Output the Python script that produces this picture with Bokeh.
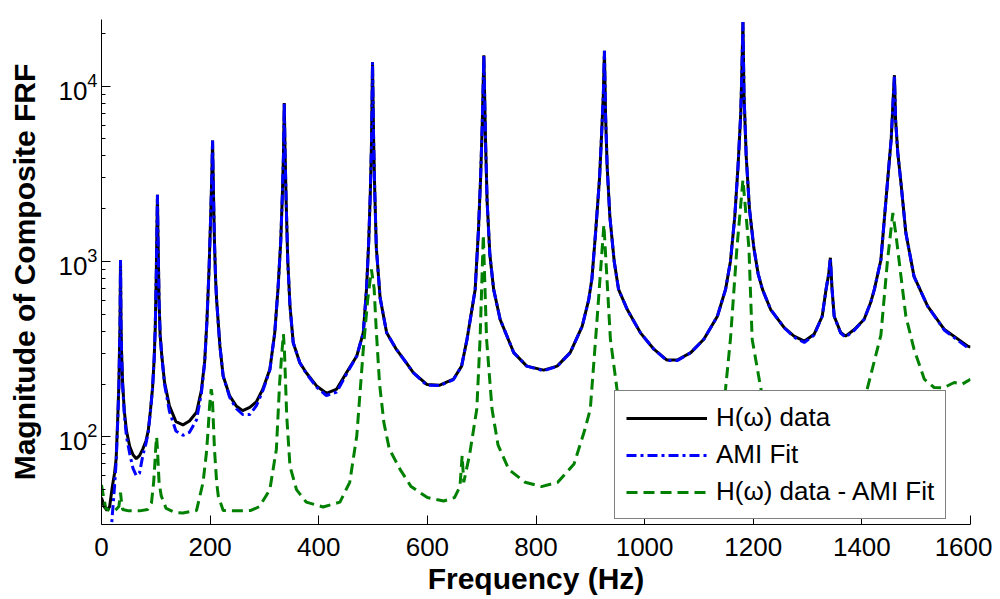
from bokeh.plotting import figure
from bokeh.models import FixedTicker, Legend, LegendItem, Range1d
from bokeh.embed import file_html
from bokeh.resources import INLINE

# ---- data ----
freq_h = [0, 5, 10, 15, 20, 24, 27, 30, 32, 33, 34, 35, 36, 37, 39, 42, 46, 52, 58, 64,
          70, 76, 82, 86, 90, 94, 97, 99, 101, 102, 103, 104, 106, 108, 111, 116, 125, 137, 150, 162,
          175, 184, 190, 194, 198, 201, 203, 204.5, 206, 208, 210, 212, 218, 224, 236, 248, 260, 273, 285, 297,
          310, 319, 325, 330, 333, 335, 336.5, 338, 340, 343, 347, 353, 365, 377, 396, 414, 433, 451, 470, 482,
          488, 492, 495, 497, 499, 501, 503, 506, 513, 525, 543, 562, 574, 599, 623, 648, 663, 673, 682, 688,
          694, 698, 701, 704, 707, 710, 715, 722, 734, 759, 783, 814, 839, 863, 885, 897, 903, 910, 917, 921,
          924, 926, 928, 931, 936, 944, 952, 968, 992, 1017, 1041, 1060, 1085, 1109, 1134, 1149, 1158, 1166, 1172, 1177,
          1179, 1181, 1183, 1187, 1193, 1201, 1209, 1217, 1232, 1257, 1275, 1294, 1312, 1327, 1334, 1339, 1342, 1345, 1349, 1361,
          1370, 1386, 1404, 1416, 1423, 1435, 1447, 1454, 1458, 1460, 1462, 1466, 1472, 1481, 1496, 1521, 1552, 1595, 1600]

h_data = [45, 40, 38, 40, 52, 62, 75, 130, 200, 300, 420, 1020, 430, 300, 200, 140, 108, 88, 79, 75,
          78, 85, 95, 108, 140, 190, 280, 420, 900, 1500, 2400, 1400, 600, 380, 290, 205, 150, 122, 117, 123,
          138, 185, 270, 450, 900, 1800, 3000, 4900, 2600, 1300, 800, 600, 330, 222, 171, 150, 141, 147, 158, 187,
          243, 393, 700, 1300, 2400, 4000, 8000, 4200, 2200, 1000, 560, 344, 265, 232, 195, 177, 187, 232, 289, 392,
          700, 1300, 2500, 4500, 13700, 5000, 2600, 1200, 620, 392, 315, 262, 232, 199, 197, 213, 253, 360, 532, 693,
          1500, 3000, 6000, 15000, 5000, 2200, 1100, 693, 467, 302, 253, 240, 253, 302, 427, 604, 800, 1500, 3000, 5500,
          9000, 15900, 7000, 3500, 1800, 1000, 693, 532, 393, 316, 274, 274, 302, 360, 487, 693, 1000, 1800, 3500, 7000,
          12000, 23200, 9000, 4000, 2000, 1200, 850, 693, 532, 419, 375, 351, 384, 487, 693, 850, 1050, 700, 487, 393,
          375, 409, 467, 581, 693, 1020, 2800, 5000, 8900, 11550, 6500, 4200, 2800, 1452, 822, 556, 409, 329, 325]

ami_fit = [12, 14, 17, 22, 36, 52, 72, 125, 195, 290, 420, 1020, 430, 300, 195, 135, 100, 80, 66, 60,
           62, 78, 92, 106, 138, 188, 280, 420, 900, 1500, 2400, 1400, 600, 380, 290, 200, 140, 108, 102, 106,
           125, 178, 265, 450, 900, 1800, 3000, 4900, 2600, 1300, 800, 600, 330, 222, 168, 145, 134, 134, 150, 183,
           240, 393, 700, 1300, 2400, 4000, 8000, 4200, 2200, 1000, 560, 344, 265, 230, 192, 172, 180, 228, 289, 392,
           700, 1300, 2500, 4500, 13700, 5000, 2600, 1200, 620, 392, 315, 262, 232, 197, 196, 212, 253, 360, 532, 693,
           1500, 3000, 6000, 15000, 5000, 2200, 1100, 693, 467, 302, 253, 238, 252, 302, 427, 604, 800, 1500, 3000, 5500,
           9000, 15900, 7000, 3500, 1800, 1000, 693, 532, 393, 316, 272, 272, 302, 360, 487, 693, 1000, 1800, 3500, 7000,
           12000, 23200, 9000, 4000, 2000, 1200, 850, 693, 532, 419, 370, 345, 380, 487, 693, 850, 1050, 700, 487, 390,
           370, 405, 467, 581, 693, 1020, 2800, 5000, 8900, 11550, 6500, 4200, 2800, 1452, 822, 556, 405, 322, 318]

freq_diff = [0, 4, 8, 15, 25, 32, 35, 37, 39, 50, 70, 85, 92, 96, 98, 100, 101.5, 103, 106, 110,
             119, 135, 150, 175, 187, 193, 196, 199, 202, 204, 208, 212, 215, 224, 254, 275, 291, 310, 322, 328,
             332, 335, 337, 341, 347, 359, 377, 408, 439, 457, 470, 482, 490, 497, 502, 506, 512, 520, 530, 550,
             570, 600, 630, 650, 660, 664, 667, 678, 691, 697, 703, 709, 719, 730, 750, 780, 810, 840, 870, 890,
             900, 912, 925, 937, 949, 962, 990, 1040, 1090, 1120, 1140, 1149, 1158, 1170, 1181, 1192, 1198, 1214, 1230, 1260,
             1300, 1330, 1342, 1350, 1380, 1400, 1410, 1435, 1447, 1457, 1463, 1472, 1481, 1496, 1515, 1533, 1550, 1570, 1585, 1600]

diff_data = [53, 45, 39, 38, 38, 40, 48, 42, 38.5, 37.8, 37.8, 38.5, 42, 55, 68, 88, 100, 85, 55, 46,
             39, 37, 36.8, 38, 55, 80, 106, 150, 187, 170, 85, 55, 46, 38, 37.8, 38, 40, 50, 85, 204,
             300, 385, 300, 132, 68, 50, 42.4, 39.8, 42.4, 55, 101, 315, 600, 900, 700, 400, 200, 120, 85, 65,
             52, 45, 43, 45, 52, 78, 55, 80, 144, 360, 1420, 360, 144, 90, 65, 55, 52, 55, 70, 110,
             144, 447, 1620, 360, 188, 120, 80, 60, 65, 90, 130, 188, 360, 1200, 2920, 1200, 360, 188, 120, 80,
             65, 70, 90, 70, 90, 150, 188, 380, 1000, 1890, 1400, 822, 487, 316, 213, 191, 190, 204, 200, 213]

x_ticks = [0, 200, 400, 600, 800, 1000, 1200, 1400, 1600]
y_ticks = [100, 1000, 10000]
y_minor = [40, 50, 60, 70, 80, 90, 200, 300, 400, 500, 600, 700, 800, 900,
           2000, 3000, 4000, 5000, 6000, 7000, 8000, 9000, 20000]

FONT = "Liberation Sans"

p = figure(width=992, height=597, y_axis_type="log",
           x_range=Range1d(0, 1600), y_range=Range1d(31.6, 24000),
           output_backend="svg", toolbar_location=None,
           min_border_left=101, min_border_right=22, min_border_top=19, min_border_bottom=72)
p.outline_line_color = None
p.xgrid.visible = False
p.ygrid.visible = False
p.background_fill_color = "white"

r_h = p.line(freq_h, h_data, line_color="black", line_width=3)
r_fit = p.line(freq_h, ami_fit, line_color="#0000ff", line_width=3, line_dash="10 4 3 4")
r_diff = p.line(freq_diff, diff_data, line_color="#008000", line_width=3, line_dash="11 6")

xa = p.xaxis[0]
xa.ticker = FixedTicker(ticks=x_ticks)
xa.major_tick_in = 9
xa.major_tick_out = 0
xa.minor_tick_in = 0
xa.minor_tick_out = 0
xa.axis_label = "Frequency (Hz)"

ya = p.yaxis[0]
ya.ticker = FixedTicker(ticks=y_ticks, minor_ticks=y_minor)
ya.major_tick_in = 9
ya.major_tick_out = 0
ya.minor_tick_in = 4
ya.minor_tick_out = 0
ya.axis_label = "Magnitude of Composite FRF"

for ax in (xa, ya):
    ax.axis_line_color = "black"
    ax.axis_line_width = 1
    ax.major_tick_line_color = "black"
    ax.minor_tick_line_color = "black"
    ax.major_label_text_font = FONT
    ax.major_label_text_font_size = "26px"
    ax.major_label_text_color = "black"
    ax.axis_label_text_font = FONT
    ax.axis_label_text_font_size = "30px"
    ax.axis_label_text_font_style = "bold"
    ax.axis_label_text_color = "black"

xa.major_label_standoff = 13
xa.axis_label_standoff = 3
ya.major_label_standoff = 4
ya.axis_label_standoff = 14

legend = Legend(items=[
    LegendItem(label="H(\u03c9) data", renderers=[r_h]),
    LegendItem(label="AMI Fit", renderers=[r_fit]),
    LegendItem(label="H(\u03c9) data - AMI Fit", renderers=[r_diff]),
], location=(513, 5))
legend.label_text_font = FONT
legend.label_text_font_size = "26px"
legend.label_text_color = "black"
legend.glyph_width = 81
legend.glyph_height = 30
legend.label_height = 30
legend.label_standoff = 9
legend.spacing = 6
legend.padding = 11
legend.margin = 0
legend.border_line_color = "black"
legend.border_line_width = 1
legend.background_fill_color = "white"
legend.background_fill_alpha = 1.0
p.add_layout(legend, "center")

open("out.html", "w").write(file_html(p, INLINE))
